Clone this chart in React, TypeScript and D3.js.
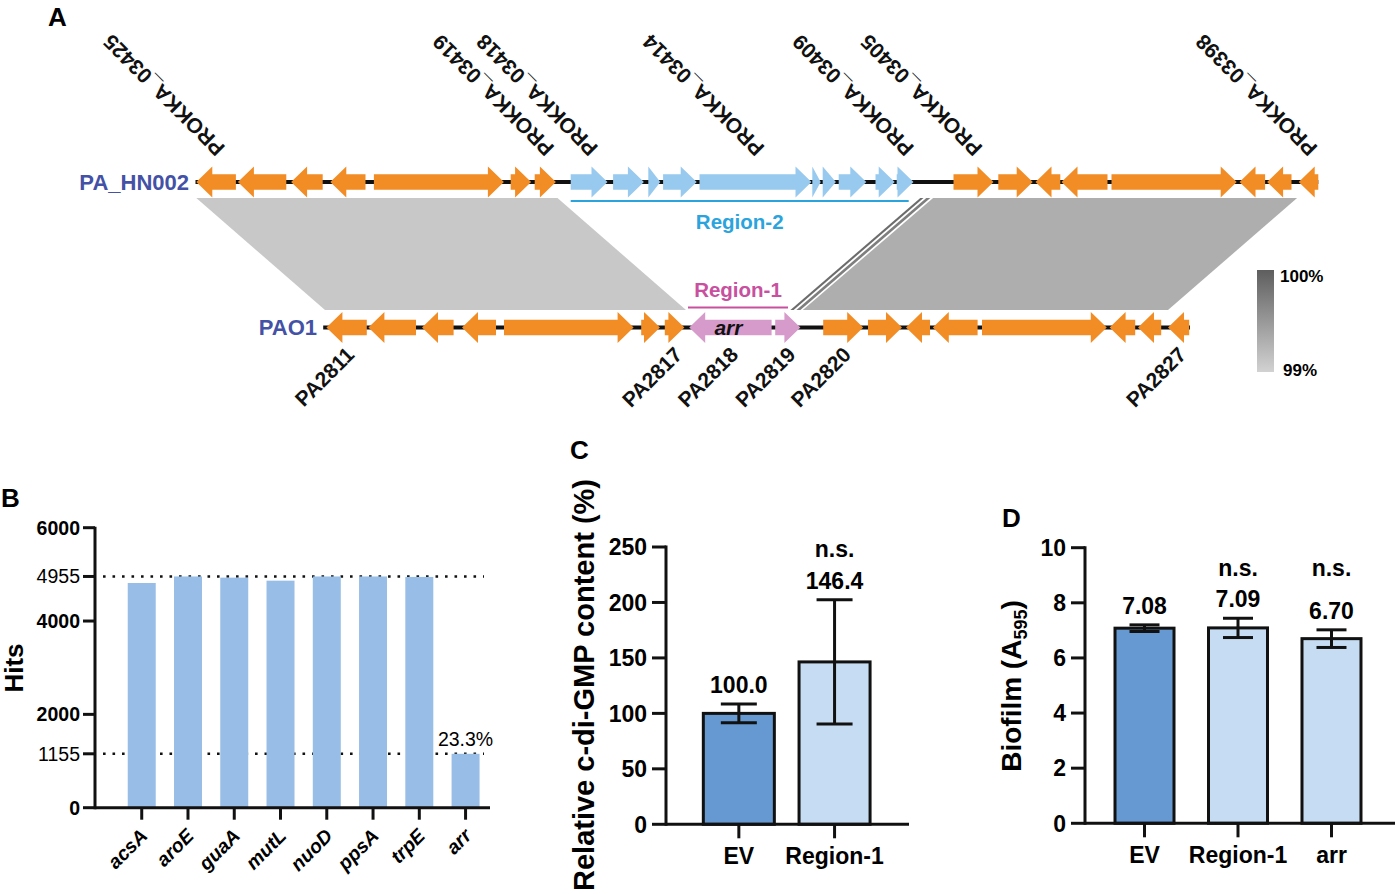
import React from 'react';
import * as d3 from 'd3';

const FONT = '"Liberation Sans", Arial, Helvetica, sans-serif';

// ---------------- Panel A data (gene coordinates in kb along each locus) ----------------
// [start, end, strand, group]
const topGenes: [number, number, number, string][] = [
  [0.02, 1.01, -1, 'flank'],
  [1.06, 2.27, -1, 'flank'],
  [2.39, 3.18, -1, 'flank'],
  [3.37, 4.25, -1, 'flank'],
  [4.46, 7.71, 1, 'flank'],
  [7.88, 8.39, 1, 'flank'],
  [8.48, 9.01, 1, 'flank'],
  [9.38, 10.3, 1, 'region2'],
  [10.44, 11.21, 1, 'region2'],
  [11.32, 11.62, 1, 'region2'],
  [11.69, 12.53, 1, 'region2'],
  [12.6, 15.4, 1, 'region2'],
  [15.42, 15.63, 1, 'region2'],
  [15.68, 16.01, 1, 'region2'],
  [16.08, 16.77, 1, 'region2'],
  [17.0, 17.48, 1, 'region2'],
  [17.53, 17.95, 1, 'region2'],
  [18.95, 19.95, 1, 'flank'],
  [20.07, 20.93, 1, 'flank'],
  [21.0, 21.62, -1, 'flank'],
  [21.65, 22.8, -1, 'flank'],
  [22.9, 26.03, 1, 'flank'],
  [26.1, 26.74, -1, 'flank'],
  [26.79, 27.4, -1, 'flank'],
  [27.58, 28.07, -1, 'flank'],
];
const topSpan = [0, 28.07];

const botGenes: [number, number, number, string][] = [
  [0.16, 1.17, -1, 'flank'],
  [1.21, 2.4, -1, 'flank'],
  [2.55, 3.34, -1, 'flank'],
  [3.55, 4.4, -1, 'flank'],
  [4.6, 7.84, 1, 'flank'],
  [8.03, 8.5, 1, 'flank'],
  [8.62, 9.11, 1, 'flank'],
  [9.23, 11.29, -1, 'region1'],
  [11.38, 12.01, 1, 'region1'],
  [12.58, 13.58, 1, 'flank'],
  [13.7, 14.55, 1, 'flank'],
  [14.65, 15.25, -1, 'flank'],
  [15.32, 16.44, -1, 'flank'],
  [16.55, 19.67, 1, 'flank'],
  [19.74, 20.38, -1, 'flank'],
  [20.45, 21.03, -1, 'flank'],
  [21.2, 21.73, -1, 'flank'],
];
const botSpan = [0.08, 21.75];

const topLabelGene = [0, 6, 7, 11, 16, 17, 24];
const topLabelText = ['PROKKA_03425', 'PROKKA_03419', 'PROKKA_03418', 'PROKKA_03414', 'PROKKA_03409', 'PROKKA_03405', 'PROKKA_03398'];
const botLabelGene = [0, 6, 7, 8, 9, 16];
const botLabelText = ['PA2811', 'PA2817', 'PA2818', 'PA2819', 'PA2820', 'PA2827'];

// synteny blocks: top span, bottom span, identity (%)
const blockTop = [[0.02, 9.05], [18.44, 27.54], [18.12, 18.2], [18.27, 18.37]];
const blockBot = [[0.125, 9.15], [12.07, 21.2], [11.76, 11.84], [11.91, 12.01]];
const blockIdentity = [99.09, 99.31, 99.88, 99.72];

const region2Span = [9.38, 17.83];
const region1Span = [9.2, 11.7];

// ---------------- Panel B data ----------------
const hitGenes = ['acsA', 'aroE', 'guaA', 'mutL', 'nuoD', 'ppsA', 'trpE', 'arr'];
const hitValues = [4815, 4955, 4930, 4865, 4955, 4955, 4945, 1155];
const hitTicks = [0, 1155, 2000, 4000, 4955, 6000];
const hitRefLines = [4955, 1155];
const hitNote = '23.3%';

// ---------------- Panel C data ----------------
const cGroups = ['EV', 'Region-1'];
const cMeans = [100.0, 146.4];
const cErrors = [8.5, 56.0];
const cSig = ['', 'n.s.'];
const cTicks = [0, 50, 100, 150, 200, 250];

// ---------------- Panel D data ----------------
const dGroups = ['EV', 'Region-1', 'arr'];
const dMeans = [7.08, 7.09, 6.7];
const dErrors = [0.12, 0.35, 0.32];
const dSig = ['', 'n.s.', 'n.s.'];
const dTicks = [0, 2, 4, 6, 8, 10];

const ORANGE = '#f28c25';
const BLUE_GENE = '#98c9ee';
const PINK = '#d69bcb';
const STRAIN = '#4351a6';
const REG2 = '#2ba4dd';
const REG1 = '#c8509e';

function arrowPath(x1: number, x2: number, strand: number, cy: number, bh: number, hh: number, hl: number) {
  const len = x2 - x1;
  let pts: [number, number][];
  if (strand > 0) {
    const hb = x2 - hl;
    pts = len <= hl
      ? [[x1, cy - hh], [x2, cy], [x1, cy + hh]]
      : [[x1, cy - bh], [hb, cy - bh], [hb, cy - hh], [x2, cy], [hb, cy + hh], [hb, cy + bh], [x1, cy + bh]];
  } else {
    const hb = x1 + hl;
    pts = len <= hl
      ? [[x2, cy - hh], [x1, cy], [x2, cy + hh]]
      : [[x2, cy - bh], [hb, cy - bh], [hb, cy - hh], [x1, cy], [hb, cy + hh], [hb, cy + bh], [x2, cy + bh]];
  }
  return (d3.line()(pts) || '') + 'Z';
}

const geneColor = (g: string) => (g === 'region2' ? BLUE_GENE : g === 'region1' ? PINK : ORANGE);

function PanelA() {
  const xTop = d3.scaleLinear().domain([0, 28.07]).range([195.5, 1318.3]);
  const xBot = d3.scaleLinear().domain([0, 21.75]).range([320, 1190]);
  const idColor = d3.scaleLinear<string>().domain([99, 100]).range(['#d2d2d2', '#5e5e5e']);
  const cyT = 182;
  const cyB = 327.5;
  const bandTop = 198;
  const bandBot = 310;
  const bh = 7.8, hh = 15.6, hl = 16;
  return (
    <g fontFamily={FONT}>
      <text x={48} y={26} fontSize={26} fontWeight="bold">A</text>
      <defs>
        <linearGradient id="idgrad" x1="0" y1="0" x2="0" y2="1">
          <stop offset="0" stopColor={idColor(100)} />
          <stop offset="1" stopColor={idColor(99)} />
        </linearGradient>
      </defs>
      {blockTop.map((t, i) => (
        <polygon key={'b' + i}
          points={`${xTop(t[0])},${bandTop} ${xTop(t[1])},${bandTop} ${xBot(blockBot[i][1])},${bandBot} ${xBot(blockBot[i][0])},${bandBot}`}
          fill={idColor(blockIdentity[i])} />
      ))}
      {/* backbones */}
      <line x1={xTop(topSpan[0])} x2={xTop(topSpan[1])} y1={cyT} y2={cyT} stroke="#111" strokeWidth={4} />
      <line x1={xBot(botSpan[0])} x2={xBot(botSpan[1])} y1={cyB} y2={cyB} stroke="#111" strokeWidth={4} />
      {topGenes.map((g, i) => (
        <path key={'t' + i} d={arrowPath(xTop(g[0]), xTop(g[1]), g[2], cyT, bh, hh, hl)} fill={geneColor(g[3])} />
      ))}
      {botGenes.map((g, i) => (
        <path key={'p' + i} d={arrowPath(xBot(g[0]), xBot(g[1]), g[2], cyB, bh, hh, hl)} fill={geneColor(g[3])} />
      ))}
      <text x={xBot((botGenes[7][0] + botGenes[7][1]) / 2) - 2} y={cyB + 7} fontSize={21} fontWeight="bold" fontStyle="italic" textAnchor="middle" fill="#111">arr</text>
      {/* strain names */}
      <text x={189} y={189.5} fontSize={22} fontWeight="bold" textAnchor="end" fill={STRAIN}>PA_HN002</text>
      <text x={317} y={335} fontSize={22} fontWeight="bold" textAnchor="end" fill={STRAIN}>PAO1</text>
      {/* region brackets */}
      <line x1={xTop(region2Span[0])} x2={xTop(region2Span[1])} y1={201} y2={201} stroke={REG2} strokeWidth={2.2} />
      <text x={(xTop(region2Span[0]) + xTop(region2Span[1])) / 2} y={229} fontSize={20.5} fontWeight="bold" textAnchor="middle" fill={REG2}>Region-2</text>
      <line x1={xBot(region1Span[0])} x2={xBot(region1Span[1])} y1={307.5} y2={307.5} stroke={REG1} strokeWidth={2.2} />
      <text x={(xBot(region1Span[0]) + xBot(region1Span[1])) / 2} y={297} fontSize={20.5} fontWeight="bold" textAnchor="middle" fill={REG1}>Region-1</text>
      {/* gene labels */}
      {topLabelGene.map((gi, i) => {
        const cx = xTop((topGenes[gi][0] + topGenes[gi][1]) / 2) + 10;
        return (
          <text key={'tl' + i} transform={`translate(${cx},147) rotate(-135)`} fontSize={21} fontWeight="bold" fill="#111">{topLabelText[i]}</text>
        );
      })}
      {botLabelGene.map((gi, i) => {
        const cx = xBot((botGenes[gi][0] + botGenes[gi][1]) / 2) + 9;
        return (
          <text key={'bl' + i} transform={`translate(${cx},356) rotate(-45)`} fontSize={21} fontWeight="bold" textAnchor="end" fill="#111">{botLabelText[i]}</text>
        );
      })}
      {/* identity legend */}
      <rect x={1257} y={270} width={17} height={102} fill="url(#idgrad)" />
      <text x={1280} y={282} fontSize={17} fontWeight="bold">100%</text>
      <text x={1283} y={376} fontSize={17} fontWeight="bold">99%</text>
    </g>
  );
}

function PanelB() {
  const x = d3.scaleBand<string>().domain(hitGenes).range([118.6, 488.7]).paddingInner(0.395).paddingOuter(0.1975);
  const y = d3.scaleLinear().domain([0, 6000]).range([807.7, 527.7]);
  const axX = 95;
  return (
    <g fontFamily={FONT}>
      <text x={1} y={507} fontSize={26} fontWeight="bold">B</text>
      {hitRefLines.map((v, i) => (
        <line key={'r' + i} x1={103} x2={484} y1={y(v)} y2={y(v)} stroke="#111" strokeWidth={2.6} strokeDasharray="2.6 6.9" />
      ))}
      {hitGenes.map((g, i) => (
        <rect key={g} x={x(g)} y={y(hitValues[i])} width={x.bandwidth()} height={y(0) - y(hitValues[i])} fill="#98bde6" />
      ))}
      <line x1={axX} x2={axX} y1={y(6000) - 1} y2={y(0) + 1.5} stroke="#111" strokeWidth={3} />
      <line x1={axX} x2={490} y1={y(0)} y2={y(0)} stroke="#111" strokeWidth={3} />
      {hitTicks.map((t) => (
        <g key={t}>
          <line x1={axX - 12} x2={axX} y1={y(t)} y2={y(t)} stroke="#111" strokeWidth={3} />
          <text x={axX - 15} y={y(t)} dy="0.36em" fontSize={19.5} textAnchor="end" fontWeight={hitRefLines.includes(t) ? 'normal' : 'bold'}>{t}</text>
        </g>
      ))}
      {hitGenes.map((g) => {
        const cx = (x(g) as number) + x.bandwidth() / 2;
        return (
          <g key={'xt' + g}>
            <line x1={cx} x2={cx} y1={y(0)} y2={y(0) + 12} stroke="#111" strokeWidth={3} />
            <text transform={`translate(${cx + 7},837) rotate(-45)`} fontSize={19.5} fontWeight="bold" fontStyle="italic" textAnchor="end">{g}</text>
          </g>
        );
      })}
      <text x={(x('arr') as number) + x.bandwidth() / 2} y={746} fontSize={19.5} textAnchor="middle">{hitNote}</text>
      <text transform="translate(23,668) rotate(-90)" fontSize={26} fontWeight="bold" textAnchor="middle">Hits</text>
    </g>
  );
}

function BarPanel(props: {
  groups: string[]; means: number[]; errors: number[]; sig: string[]; ticks: number[];
  yDomain: [number, number]; yRange: [number, number]; xRange: [number, number];
  pIn: number; pOut: number; axisEnd: number; capW: number; fmt: (v: number) => string;
}) {
  const { groups, means, errors, sig, ticks, yDomain, yRange, xRange, pIn, pOut, axisEnd, capW, fmt } = props;
  const x = d3.scaleBand<string>().domain(groups).range(xRange).paddingInner(pIn).paddingOuter(pOut);
  const y = d3.scaleLinear().domain(yDomain).range(yRange);
  const axX = xRange[0];
  const labelBase = means.map((m, i) => y(m + errors[i]) - 11);
  const sigY = Math.min(...labelBase) - 31.5;
  return (
    <g fontFamily={FONT}>
      {groups.map((g, i) => {
        const x0 = x(g) as number;
        const cx = x0 + x.bandwidth() / 2;
        return (
          <g key={g}>
            <rect x={x0} y={y(means[i])} width={x.bandwidth()} height={y(0) - y(means[i])}
              fill={i === 0 ? '#6699d1' : '#c6dcf2'} stroke="#111" strokeWidth={3} />
            <line x1={cx} x2={cx} y1={y(means[i] - errors[i])} y2={y(means[i] + errors[i])} stroke="#111" strokeWidth={3} />
            <line x1={cx - capW / 2} x2={cx + capW / 2} y1={y(means[i] + errors[i])} y2={y(means[i] + errors[i])} stroke="#111" strokeWidth={3} />
            <line x1={cx - capW / 2} x2={cx + capW / 2} y1={y(means[i] - errors[i])} y2={y(means[i] - errors[i])} stroke="#111" strokeWidth={3} />
            <text x={cx} y={labelBase[i]} fontSize={23} fontWeight="bold" textAnchor="middle">{fmt(means[i])}</text>
            {sig[i] ? <text x={cx} y={sigY} fontSize={23} fontWeight="bold" textAnchor="middle">{sig[i]}</text> : null}
            <line x1={cx} x2={cx} y1={y(0)} y2={y(0) + 14} stroke="#111" strokeWidth={3} />
            <text x={cx} y={y(0) + 40} fontSize={23} fontWeight="bold" textAnchor="middle">{g}</text>
          </g>
        );
      })}
      <line x1={axX} x2={axX} y1={y(yDomain[1]) - 1.5} y2={y(0) + 1.5} stroke="#111" strokeWidth={3} />
      <line x1={axX} x2={axisEnd} y1={y(0)} y2={y(0)} stroke="#111" strokeWidth={3} />
      {ticks.map((t) => (
        <g key={t}>
          <line x1={axX - 14} x2={axX} y1={y(t)} y2={y(t)} stroke="#111" strokeWidth={3} />
          <text x={axX - 19} y={y(t)} dy="0.36em" fontSize={23} fontWeight="bold" textAnchor="end">{t}</text>
        </g>
      ))}
    </g>
  );
}

export default function App() {
  return (
    <svg width={1395} height={894} viewBox="0 0 1395 894"
      style={{ position: 'absolute', left: 0, top: 0, background: '#fff' }}>
      <rect width={1395} height={894} fill="#fff" />
      <PanelA />
      <PanelB />
      <g fontFamily={FONT}>
        <text x={570} y={459} fontSize={26} fontWeight="bold">C</text>
        <text transform="translate(594,685) rotate(-90)" fontSize={29} fontWeight="bold" textAnchor="middle">Relative c-di-GMP content (%)</text>
        <text x={1002} y={527} fontSize={26} fontWeight="bold">D</text>
        <text transform="translate(1021,686) rotate(-90)" fontSize={28} fontWeight="bold" textAnchor="middle">
          Biofilm (A<tspan fontSize={18} dy={6}>595</tspan><tspan dy={-6}>)</tspan>
        </text>
      </g>
      <BarPanel groups={cGroups} means={cMeans} errors={cErrors} sig={cSig} ticks={cTicks}
        yDomain={[0, 250]} yRange={[824.3, 547]} xRange={[666, 907.4]} pIn={0.258} pOut={0.39}
        axisEnd={909} capW={36} fmt={(v) => v.toFixed(1)} />
      <BarPanel groups={dGroups} means={dMeans} errors={dErrors} sig={dSig} ticks={dTicks}
        yDomain={[0, 10]} yRange={[823.3, 547.7]} xRange={[1085, 1391]} pIn={0.369} pOut={0.321}
        axisEnd={1395} capW={30} fmt={(v) => v.toFixed(2)} />
    </svg>
  );
}
